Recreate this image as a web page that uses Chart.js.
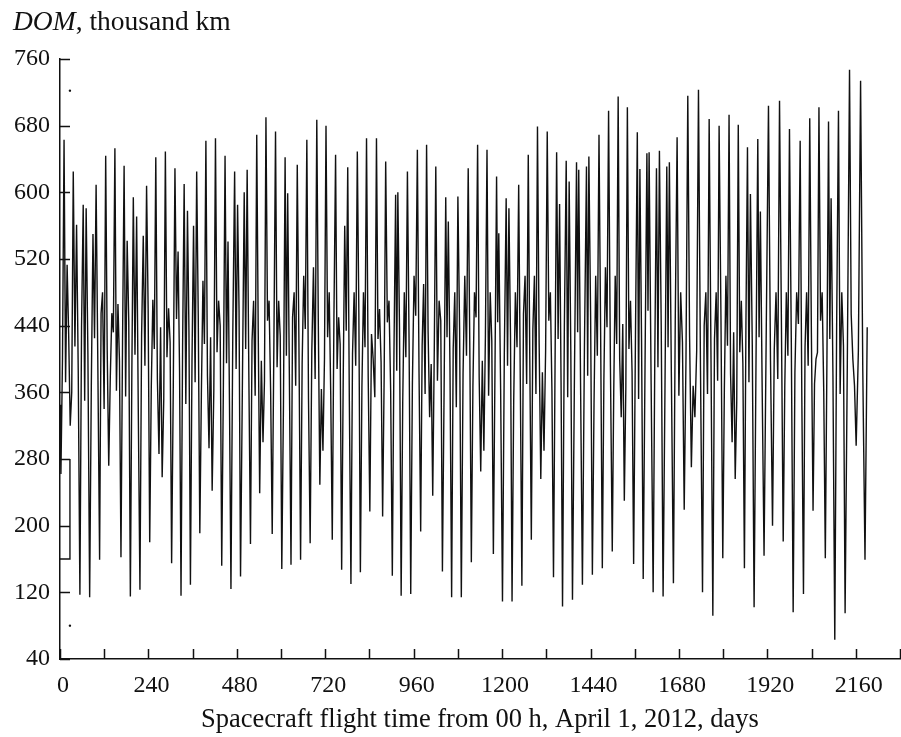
<!DOCTYPE html>
<html>
<head>
<meta charset="utf-8">
<script src="https://cdn.jsdelivr.net/npm/chart.js@4.4.1/dist/chart.umd.min.js"></script>
<style>
    html, body { margin: 0; padding: 0; background: #fff; }
    #wrap { width: 901px; height: 737px; }
</style>
</head>
<body>
<div id="wrap"><canvas id="myChart" width="901" height="737"></canvas></div>
<script>
// apogee passes: day of each spike and its distance from the Moon (thousand km)
const spikeDays = [
    2.5, 11, 19.3, 27.7, 36, 45, 54, 63, 71, 80.5, 89.5, 98, 107.5, 115.5, 124, 132.3, 140.7, 149, 157.3, 165.5,
    174, 182.3, 191, 199, 208, 217, 226, 235, 243.5, 252, 260, 268.7, 277.3, 286, 294.7, 303, 312, 320.5, 328.5, 337,
    346, 354, 362.5, 371, 379.5, 388, 396, 404.5, 413, 422, 430.5, 439, 448, 456, 464, 474, 482, 490, 500, 508,
    517, 525.5, 534, 542, 551, 559, 567.5, 576, 585, 593.5, 602, 611, 618, 627, 635.5, 644, 653, 661.5, 670, 679,
    688, 697, 705.3, 713.7, 722, 730.7, 739, 748, 756.3, 764.5, 772.8, 781, 789.7, 798.3, 807, 815.3, 823.7, 832, 841, 850,
    859, 867.3, 875.7, 884, 893, 902, 911, 917, 926, 934.5, 943, 952, 961, 970, 979, 987, 995, 1003.3, 1011.7, 1020,
    1029, 1038, 1047, 1054, 1063, 1071.5, 1080, 1089.3, 1098.7, 1108, 1116.5, 1125, 1133.5, 1142, 1150.5, 1159, 1167.7, 1176.3, 1185, 1191,
    1201, 1211, 1218.5, 1227, 1236, 1245, 1253.7, 1262.3, 1271, 1279.3, 1287.7, 1296, 1305, 1313.7, 1322.5, 1331, 1339.5, 1348, 1356, 1364,
    1374, 1382, 1391, 1402, 1408, 1418, 1429, 1435.5, 1445, 1454, 1463, 1472, 1480.5, 1489, 1499, 1507, 1515, 1523.3, 1531.7, 1540,
    1548.5, 1557, 1567, 1574, 1583, 1593, 1599, 1610, 1619, 1627, 1637, 1647, 1654, 1665, 1675, 1684.7, 1694.3, 1704, 1713.7, 1723.3,
    1733, 1744, 1753, 1762, 1772, 1781, 1789, 1799, 1807.5, 1816, 1824.3, 1832.7, 1841, 1849.3, 1857.7, 1866, 1874, 1884, 1894, 1901,
    1911, 1923, 1934, 1943.5, 1953, 1963, 1971.5, 1980, 1990, 1999.5, 2009, 2018, 2026.5, 2035, 2044, 2052, 2060, 2068.7, 2077.3, 2086,
    2093, 2103, 2113, 2122, 2131, 2143, 2152, 2161, 2173, 2185
];
const spikeDom = [
    262, 663, 513, 320, 625, 561, 117, 585, 581, 114, 550, 609, 159, 480, 644, 272, 455, 653, 466, 162,
    632, 542, 115, 594, 571, 123, 548, 608, 180, 471, 642, 286, 258, 649, 461, 155, 629, 529, 116, 610,
    578, 129, 560, 625, 191, 494, 662, 293, 242, 665, 470, 152, 644, 541, 124, 625, 585, 139, 600, 627,
    178, 470, 669, 239, 300, 690, 470, 190, 673, 470, 148, 642, 599, 153, 480, 633, 159, 500, 663, 179,
    510, 687, 249, 290, 680, 480, 183, 645, 450, 147, 560, 630, 130, 480, 649, 144, 480, 665, 217, 400,
    665, 460, 211, 637, 470, 140, 597, 600, 116, 480, 625, 118, 500, 651, 193, 490, 657, 330, 236, 631,
    470, 145, 594, 565, 114, 480, 595, 114, 500, 629, 156, 480, 657, 265, 290, 651, 480, 166, 619, 551,
    109, 593, 581, 109, 480, 609, 128, 500, 645, 183, 500, 679, 256, 290, 673, 480, 138, 648, 586, 103,
    638, 613, 111, 636, 627, 129, 631, 643, 141, 500, 669, 149, 510, 698, 169, 500, 715, 330, 230, 702,
    470, 154, 672, 628, 136, 647, 648, 120, 629, 650, 115, 631, 636, 131, 666, 480, 219, 716, 270, 330,
    723, 120, 480, 688, 92, 480, 680, 161, 500, 693, 300, 256, 681, 470, 149, 654, 598, 102, 664, 577,
    164, 704, 200, 480, 710, 181, 480, 676, 96, 480, 662, 118, 480, 689, 218, 400, 702, 480, 161, 685,
    593, 63, 698, 480, 95, 747, 400, 296, 734, 159
];
// perigee passes, one before each spike
const perigeeDom = [
    345, 400, 372, 430, 360, 415, 385, 440, 350, 405, 368, 425, 390, 455, 340, 410, 378, 432, 362, 398,
    420, 355, 445, 383, 405, 338, 428, 392, 460, 365, 412, 375, 438, 352, 402, 420, 368, 448, 386, 414,
    346, 433, 396, 372, 452, 358, 418, 380, 426, 362, 408, 440, 370, 395, 348, 430, 388, 458, 366, 412,
    384, 422, 356, 436, 398, 374, 446, 360, 416, 390, 428, 344, 404, 382, 450, 368, 420, 394, 436, 352,
    410, 376, 442, 364, 400, 426, 358, 448, 388, 418, 372, 434, 350, 406, 392, 456, 366, 414, 380, 430,
    354, 424, 396, 378, 444, 362, 410, 386, 438, 348, 402, 420, 370, 452, 384, 416, 358, 432, 394, 408,
    374, 446, 360, 426, 390, 412, 342, 436, 382, 404, 418, 366, 450, 378, 398, 430, 356, 422, 388, 444,
    364, 406, 392, 428, 350, 414, 376, 454, 370, 400, 436, 358, 420, 384, 410, 446, 362, 396, 424, 372,
    440, 354, 408, 388, 432, 368, 416, 380, 450, 346, 404, 426, 374, 438, 392, 360, 418, 400, 442, 366,
    412, 384, 430, 352, 422, 396, 458, 370, 406, 390, 434, 362, 414, 378, 448, 356, 420, 402, 428, 368,
    410, 386, 440, 358, 400, 424, 374, 452, 364, 416, 382, 432, 348, 408, 394, 444, 372, 418, 388, 426,
    360, 436, 398, 412, 376, 450, 366, 404, 420, 384, 442, 354, 414, 392, 430, 370, 408, 446, 362, 398,
    424, 380, 438, 358, 416, 394, 454, 368, 410, 386
];
const endDay = 2191;
const endDom = 438;

// stray marks near the left axis
const bracketDays = [0, 27, 27];
const bracketDom = [160, 160, 280];
const dotDays = [27, 27];
const dotDom = [722, 80];

const xMin = 0, xMax = 2280, xStep = 120, xLabelStep = 240, xLastLabel = 2160;
const yMin = 40, yMax = 760, yStep = 80;

const serif = "'Liberation Serif', 'Times New Roman', serif";
const ink = '#111';

const points = [];
spikeDays.forEach((d, i) => {
    const pDay = i === 0 ? 0 : (spikeDays[i - 1] + d) / 2;
    points.push({ x: pDay, y: perigeeDom[i] });
    points.push({ x: d, y: spikeDom[i] });
});
points.push({ x: endDay, y: endDom });

const inwardTicks = {
    id: 'inwardTicks',
    afterDatasetsDraw(chart) {
        const { ctx, chartArea, scales: { x, y } } = chart;
        ctx.save();
        ctx.strokeStyle = ink;
        ctx.lineWidth = 1.5;
        ctx.beginPath();
        x.ticks.forEach(t => {
            const px = Math.round(x.getPixelForValue(t.value)) + 0.5;
            ctx.moveTo(px, chartArea.bottom);
            ctx.lineTo(px, chartArea.bottom - 10);
        });
        y.ticks.forEach(t => {
            const py = Math.round(y.getPixelForValue(t.value)) + 0.5;
            ctx.moveTo(chartArea.left, py);
            ctx.lineTo(chartArea.left + 10, py);
        });
        ctx.stroke();
        ctx.restore();
    }
};

const yTitle = {
    id: 'yTitle',
    afterDraw(chart) {
        const ctx = chart.ctx;
        ctx.save();
        ctx.fillStyle = ink;
        ctx.textBaseline = 'alphabetic';
        ctx.textAlign = 'left';
        ctx.font = 'italic 27.5px ' + serif;
        ctx.fillText('DOM', 13, 30);
        const w = ctx.measureText('DOM').width;
        ctx.font = '27.5px ' + serif;
        ctx.fillText(', thousand km', 13 + w, 30);
        ctx.restore();
    }
};

new Chart(document.getElementById('myChart'), {
    type: 'line',
    data: {
        datasets: [
            {
                data: points,
                borderColor: ink,
                borderWidth: 1.4,
                pointRadius: 0,
                tension: 0,
            },
            {
                data: bracketDays.map((d, i) => ({ x: d, y: bracketDom[i] })),
                borderColor: ink,
                borderWidth: 1.4,
                pointRadius: 0,
            },
            {
                data: dotDays.map((d, i) => ({ x: d, y: dotDom[i] })),
                showLine: false,
                pointRadius: 1.2,
                pointBackgroundColor: ink,
                pointBorderWidth: 0,
            },
        ],
    },
    options: {
        responsive: false,
        animation: false,
        devicePixelRatio: 1,
        layout: { autoPadding: false, padding: { top: 59, right: 1, bottom: 0, left: 0 } },
        plugins: {
            legend: { display: false },
            tooltip: { enabled: false },
        },
        scales: {
            x: {
                type: 'linear',
                min: xMin,
                max: xMax,
                grid: { display: false, drawTicks: false },
                border: { display: true, color: ink, width: 1.5 },
                ticks: {
                    stepSize: xStep,
                    autoSkip: false,
                    maxRotation: 0,
                    padding: 12,
                    labelOffset: 3,
                    color: ink,
                    font: { family: serif, size: 24 },
                    callback: v => (v % xLabelStep === 0 && v <= xLastLabel) ? String(v) : '',
                },
                title: {
                    display: true,
                    text: 'Spacecraft flight time from 00 h, April 1, 2012, days',
                    color: ink,
                    font: { family: serif, size: 26.5 },
                    padding: { top: 0, bottom: 1 },
                },
                afterFit(scale) {
                    scale.height = 78;
                    scale.paddingRight = 0;
                },
            },
            y: {
                min: yMin,
                max: yMax,
                grid: { display: false, drawTicks: false },
                border: { display: true, color: ink, width: 1.5 },
                ticks: {
                    stepSize: yStep,
                    padding: 10,
                    color: ink,
                    font: { family: serif, size: 24 },
                },
                afterFit(scale) { scale.width = 60; },
            },
        },
    },
    plugins: [inwardTicks, yTitle],
});
</script>
</body>
</html>
